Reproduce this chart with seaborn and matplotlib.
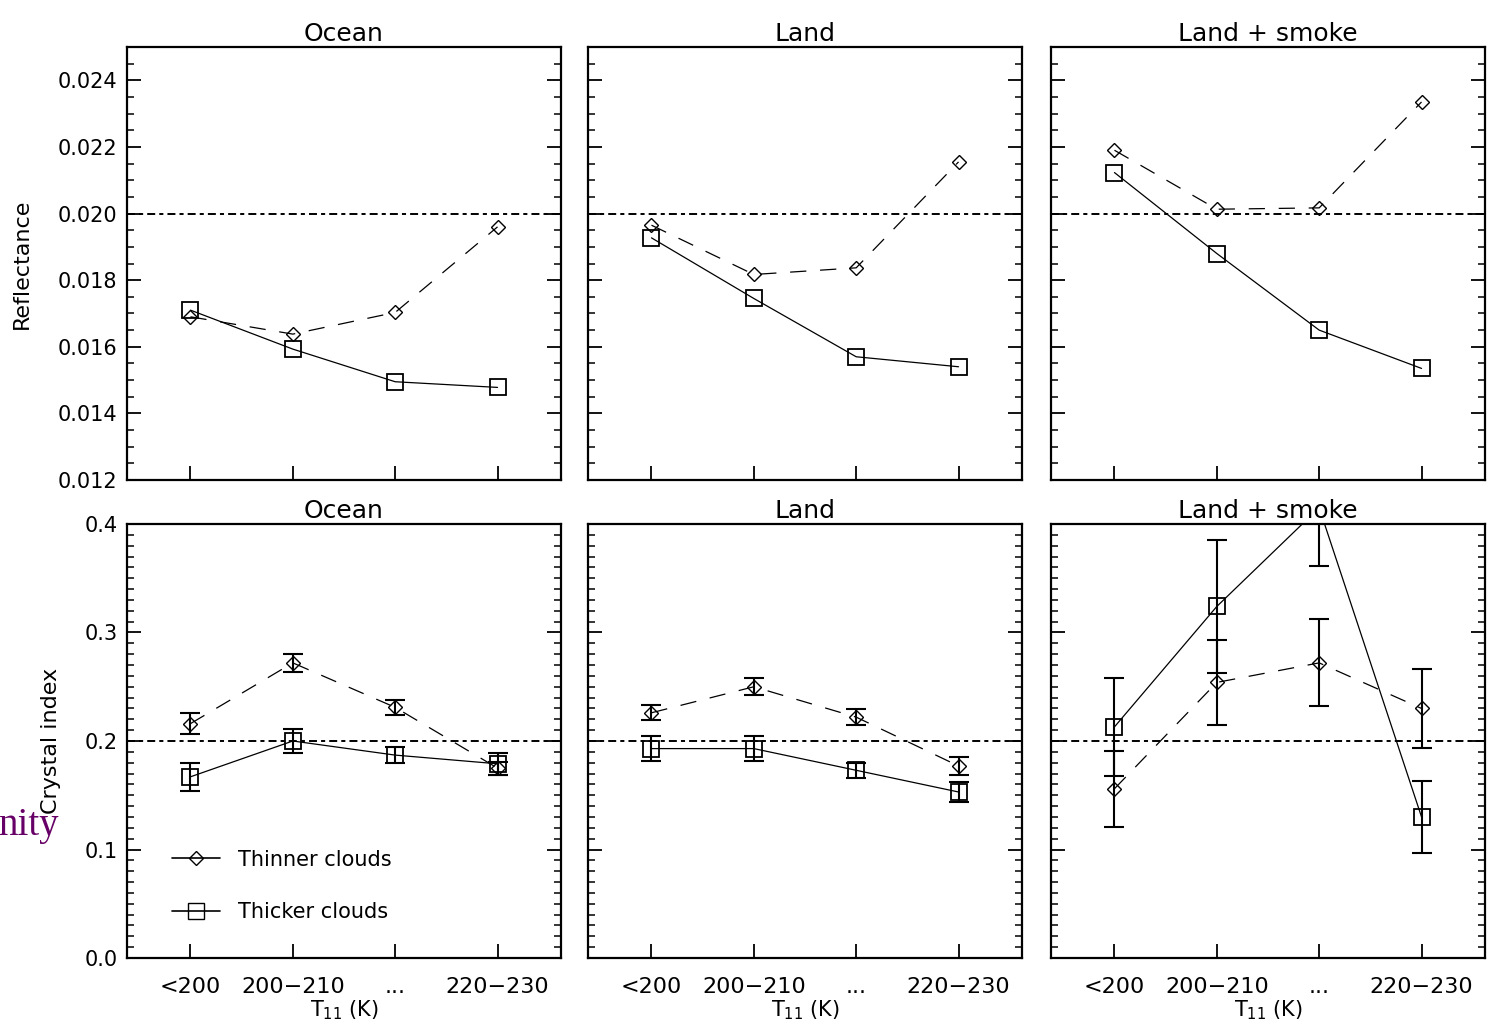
import numpy as np
import pandas as pd
import seaborn as sns
import matplotlib.pyplot as plt
from matplotlib.lines import Line2D
from matplotlib.ticker import MultipleLocator, FormatStrFormatter

# x categories
t11_bins = ["<200", "200\u2212210", "...", "220\u2212230"]
regions = ["Ocean", "Land", "Land + smoke"]

# top row: reflectance
refl_thin = {
    "Ocean": [0.0169, 0.01638, 0.01703, 0.0196],
    "Land": [0.01965, 0.01817, 0.01837, 0.02155],
    "Land + smoke": [0.0219, 0.02013, 0.02017, 0.02335],
}
refl_thick = {
    "Ocean": [0.0171, 0.01593, 0.01495, 0.01478],
    "Land": [0.01927, 0.01745, 0.0157, 0.0154],
    "Land + smoke": [0.02123, 0.0188, 0.0165, 0.01535],
}

# bottom row: crystal index with error bars
ci_thin = {
    "Ocean": [0.216, 0.272, 0.231, 0.175],
    "Land": [0.226, 0.250, 0.222, 0.177],
    "Land + smoke": [0.156, 0.254, 0.272, 0.230],
}
ci_thin_err = {
    "Ocean": [0.010, 0.008, 0.007, 0.006],
    "Land": [0.007, 0.008, 0.0077, 0.0085],
    "Land + smoke": [0.035, 0.039, 0.040, 0.036],
}
ci_thick = {
    "Ocean": [0.167, 0.200, 0.187, 0.179],
    "Land": [0.193, 0.193, 0.173, 0.153],
    "Land + smoke": [0.213, 0.324, 0.415, 0.130],
}
ci_thick_err = {
    "Ocean": [0.013, 0.0115, 0.0075, 0.010],
    "Land": [0.0117, 0.0117, 0.007, 0.009],
    "Land + smoke": [0.045, 0.061, 0.054, 0.033],
}

sns.set_style("ticks")
plt.rcParams["font.family"] = ["DejaVu Sans"]
# plain black text and frames, like the original IDL plot
for key in ["text.color", "axes.labelcolor", "xtick.color", "ytick.color", "axes.edgecolor"]:
    plt.rcParams[key] = "black"

fig = plt.figure(figsize=(14.88, 10.32), dpi=100)
W, H = 1488.0, 1032.0
lefts = [127, 588, 1051]
pw = 434


def make_df(thin, thick):
    x = list(range(len(t11_bins)))
    return pd.DataFrame({
        "x": x + x,
        "value": list(thin) + list(thick),
        "cloud": ["Thinner clouds"] * 4 + ["Thicker clouds"] * 4,
    })


def style_axes(ax, ylim, major, minor, fmt, show_ylabels, show_xlabels):
    ax.set_xlim(-0.62, 3.62)
    ax.set_ylim(*ylim)
    ax.set_xticks(range(len(t11_bins)))
    ax.yaxis.set_major_locator(MultipleLocator(major))
    ax.yaxis.set_minor_locator(MultipleLocator(minor))
    ax.yaxis.set_major_formatter(FormatStrFormatter(fmt))
    ax.tick_params(axis="y", which="major", direction="in", length=10, width=1.3,
                   left=True, right=True, labelsize=15, pad=7)
    ax.tick_params(axis="y", which="minor", direction="in", length=5, width=1.1,
                   left=True, right=True)
    ax.tick_params(axis="x", which="major", direction="in", length=10, width=1.3,
                   bottom=True, top=False, labelsize=16, pad=14)
    ax.tick_params(axis="x", which="minor", bottom=False, top=False)
    if show_xlabels:
        ax.set_xticklabels(t11_bins)
        ax.set_xlabel("T$_{11}$ (K)", fontsize=15, labelpad=1)
    else:
        ax.set_xticklabels([])
        ax.set_xlabel("")
    if not show_ylabels:
        ax.set_yticklabels([])
    ax.set_ylabel("")
    for s in ax.spines.values():
        s.set_linewidth(1.6)
        s.set_visible(True)


def draw_lines(ax, df):
    sns.lineplot(data=df, x="x", y="value", style="cloud", ax=ax,
                 markers={"Thinner clouds": "D", "Thicker clouds": "s"},
                 dashes={"Thinner clouds": (13, 11), "Thicker clouds": ""},
                 style_order=["Thinner clouds", "Thicker clouds"],
                 color="black", linewidth=0.9, markersize=9,
                 markerfacecolor="none", markeredgecolor="black",
                 markeredgewidth=1.3, legend=False)
    for line in ax.get_lines():
        if line.get_marker() == "D":
            line.set_markersize(7)
            line.set_markeredgewidth(1.0)
        if line.get_marker() == "s":
            line.set_markersize(11)


for i, reg in enumerate(regions):
    # top row
    ax = fig.add_axes([lefts[i] / W, (H - 480) / H, pw / W, 433 / H])
    draw_lines(ax, make_df(refl_thin[reg], refl_thick[reg]))
    ax.axhline(0.020, color="black", lw=1.4, ls=(0, (4.1, 2.1, 2.1, 2.1)))
    style_axes(ax, (0.012, 0.025), 0.002, 0.0005, "%.3f", i == 0, False)
    ax.set_title(reg, fontsize=18, pad=4)
    if i == 0:
        ax.set_ylabel("Reflectance", fontsize=16)
        ax.yaxis.set_label_coords(-0.219, 0.5)

    # bottom row
    ax = fig.add_axes([lefts[i] / W, (H - 958) / H, pw / W, 434 / H])
    xs = np.arange(len(t11_bins))
    ax.errorbar(xs, ci_thin[reg], yerr=ci_thin_err[reg], fmt="none",
                ecolor="black", elinewidth=1.5, capsize=7.5, capthick=1.5)
    ax.errorbar(xs, ci_thick[reg], yerr=ci_thick_err[reg], fmt="none",
                ecolor="black", elinewidth=1.5, capsize=7.5, capthick=1.5)
    draw_lines(ax, make_df(ci_thin[reg], ci_thick[reg]))
    ax.axhline(0.2, color="black", lw=1.4, ls=(0, (4.1, 2.1, 2.1, 2.1)))
    style_axes(ax, (0.0, 0.4), 0.1, 0.01, "%.1f", i == 0, True)
    ax.set_title(reg, fontsize=18, pad=4)
    if i == 0:
        ax.set_ylabel("Crystal index", fontsize=16)
        ax.yaxis.set_label_coords(-0.152, 0.5)
        handles = [
            Line2D([], [], color="black", lw=1.2, marker="D", markersize=7,
                   markerfacecolor="none", markeredgecolor="black"),
            Line2D([], [], color="black", lw=1.2, marker="s", markersize=12,
                   markerfacecolor="none", markeredgecolor="black"),
        ]
        ax.legend(handles, ["Thinner clouds", "Thicker clouds"], loc="lower left",
                  bbox_to_anchor=(0.06, 0.04), frameon=False, fontsize=15,
                  handlelength=2.3, labelspacing=1.55, handletextpad=0.9)

# stray slide text at the left edge
fig.text(59 / W, (H - 835) / H, "nity", color="#660066", fontsize=28,
         family=["Liberation Serif"], ha="right", va="baseline")

fig.savefig("out.png", dpi=100)
